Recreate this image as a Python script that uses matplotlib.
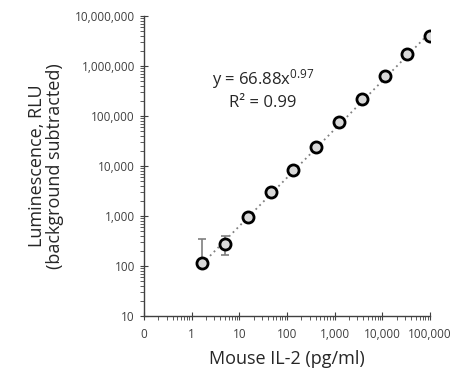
"""
Mouse IL-2 standard curve, luminescence vs concentration (log-log)
"""

import numpy as np
import matplotlib.pyplot as plt
from matplotlib.ticker import LogLocator, FixedLocator, FixedFormatter, NullFormatter

# DATA

conc = [1.69, 5.08, 15.2, 45.7, 137, 412, 1235, 3704, 11111, 33333, 100000]
rlu = [112, 279, 940, 3060, 8400, 24300, 74800, 219000, 640000, 1710000, 4040000]
err_low = [0, 115, 0, 0, 0, 0, 0, 0, 0, 0, 0]
err_high = [230, 119, 0, 0, 0, 0, 0, 0, 0, 0, 0]

fit_a = 66.88
fit_b = 0.97

x_ticks = [0.1, 1, 10, 100, 1000, 10000, 100000]
x_labels = ["0", "1", "10", "100", "1,000", "10,000", "100,000"]
y_ticks = [10, 100, 1000, 10000, 100000, 1000000, 10000000]
y_labels = ["10", "100", "1,000", "10,000", "100,000", "1,000,000", "10,000,000"]

# PLOT

plt.rcParams['font.family'] = ['Open Sans', 'DejaVu Sans']
plt.rcParams['mathtext.fontset'] = 'custom'
plt.rcParams['mathtext.rm'] = 'Open Sans'

fig = plt.figure(figsize=(4.67, 3.76), dpi=100)
ax = fig.add_axes([0.308, 0.160, 0.613, 0.797])

# trendline
xf = np.logspace(np.log10(conc[0]), np.log10(conc[-1]), 50)
ax.plot(xf, fit_a * xf ** fit_b, linestyle=(0, (1, 2)), color='#808080', linewidth=1.3, zorder=1)

ax.errorbar(conc, rlu, yerr=[err_low, err_high], fmt='none', ecolor='#7f7f7f',
            elinewidth=1.2, capsize=3, capthick=1.2, zorder=2)
ax.plot(conc, rlu, 'o', markersize=8, markerfacecolor='#d9d9d9',
        markeredgecolor='black', markeredgewidth=2, zorder=3)

ax.set_xscale('log')
ax.set_yscale('log')
ax.set_xlim(0.1, 100000)
ax.set_ylim(10, 10000000)

ax.xaxis.set_major_locator(FixedLocator(x_ticks))
ax.xaxis.set_major_formatter(FixedFormatter(x_labels))
ax.xaxis.set_minor_locator(LogLocator(base=10, subs=np.arange(2, 10), numticks=20))
ax.xaxis.set_minor_formatter(NullFormatter())
ax.yaxis.set_major_locator(FixedLocator(y_ticks))
ax.yaxis.set_major_formatter(FixedFormatter(y_labels))
ax.yaxis.set_minor_locator(LogLocator(base=10, subs=np.arange(2, 10), numticks=20))
ax.yaxis.set_minor_formatter(NullFormatter())

ax.spines['top'].set_visible(False)
ax.spines['right'].set_visible(False)
for s in ['left', 'bottom']:
    ax.spines[s].set_color('#404040')
    ax.spines[s].set_linewidth(1.0)

ax.tick_params(which='major', direction='inout', length=6, width=0.8, color='#404040',
               labelsize=8.5, labelcolor='#404040')
ax.tick_params(which='minor', direction='out', length=3, width=0.6, color='#404040')
ax.tick_params(axis='x', which='major', pad=6)

ax.set_xlabel("Mouse IL-2 (pg/ml)", fontsize=13, color='#262626', labelpad=6)
ax.set_ylabel("Luminescence, RLU\n(background subtracted)", fontsize=13,
              color='#262626', labelpad=8, linespacing=1.0)

ax.text(0.415, 0.79, r"y = 66.88x$\mathregular{^{0.97}}$", transform=ax.transAxes,
        ha='center', va='center', fontsize=12, color='#262626')
ax.text(0.415, 0.71, "R² = 0.99", transform=ax.transAxes,
        ha='center', va='center', fontsize=12, color='#262626')

plt.savefig("out.png", dpi=100)
